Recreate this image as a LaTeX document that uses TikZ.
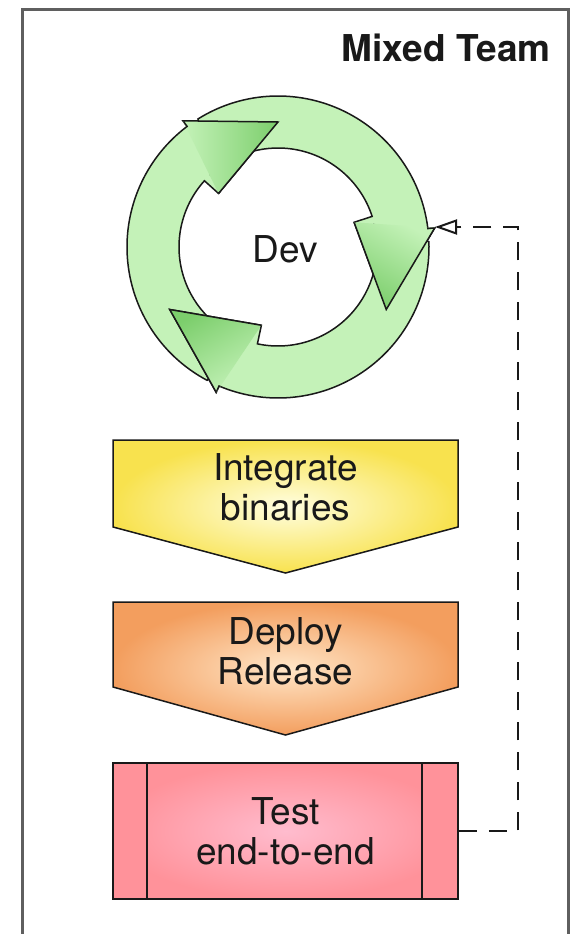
\documentclass[tikz,border=0pt]{standalone}
\usepackage{fontspec}
\setmainfont{TeX Gyre Heros}
\usetikzlibrary{arrows.meta}

\definecolor{ringgreen}{RGB}{196,242,184}
\definecolor{headgreen}{RGB}{124,206,108}
\definecolor{yellowedge}{RGB}{248,226,78}
\definecolor{yellowmid}{RGB}{255,254,224}
\definecolor{orangeedge}{RGB}{243,158,94}
\definecolor{orangemid}{RGB}{255,230,200}
\definecolor{pinkedge}{RGB}{255,146,154}
\definecolor{pinkmid}{RGB}{255,188,206}
\definecolor{framegray}{RGB}{95,95,95}
\definecolor{inkgray}{RGB}{25,25,25}

\tikzset{
  boxtext/.style={font=\fontsize{37}{40}\selectfont, align=center, text=inkgray},
  outline/.style={draw=inkgray, line width=1.5pt},
  ringarrow/.style={outline, fill=ringgreen},
  chevron/.style={outline},
  testbox/.style={boxtext, outline, minimum width=345pt, minimum height=136pt, inner sep=0pt,
    shade, inner color=pinkmid, outer color=pinkedge,
    path picture={
      \fill[pinkedge] (path picture bounding box.north west) rectangle ([xshift=34pt]path picture bounding box.south west);
      \fill[pinkedge] ([xshift=-36pt]path picture bounding box.north east) rectangle (path picture bounding box.south east);
      \draw[inkgray, line width=1.5pt] ([xshift=34pt]path picture bounding box.north west) -- ([xshift=34pt]path picture bounding box.south west);
      \draw[inkgray, line width=1.5pt] ([xshift=-36pt]path picture bounding box.north east) -- ([xshift=-36pt]path picture bounding box.south east);
    }},
  feedback/.style={draw=inkgray, line width=2.5pt, dash pattern=on 18pt off 12pt,
    -{Triangle[open, length=22pt, width=15pt, line width=2pt]}}
}

\newcommand{\cyclepath}[1]{({#1+152}:151) arc[start angle={#1+152}, end angle={#1+37}, radius=151]
  -- ({#1+37}:158) -- (#1:125) -- ({#1+48}:80) -- ({#1+48}:99)
  arc[start angle={#1+48}, end angle={#1+163}, radius=99] -- cycle}

\begin{document}
\begin{tikzpicture}[x=1pt,y=-1pt]
\useasboundingbox (0,0) rectangle (573,934);
\clip (0,0) rectangle (573,934);
\fill[white] (0,0) rectangle (573,934);
\draw[framegray, line width=3pt] (22,10) rectangle (568,960);
\node[boxtext, font=\fontsize{37}{40}\selectfont\bfseries, anchor=base east] (team) at (554,62) {Mixed Team};

\begin{scope}[shift={(278,247)}, yscale=-1]
\foreach \t in {90,-30,210}
  \filldraw[ringarrow] \cyclepath{\t};
\foreach \t in {90,-30,210} {
  \begin{scope}
  \clip (0,0) -- ({\t+48}:80) -- ({\t+37}:158) -- ({\t+37}:240) -- ({\t-20}:240) -- cycle;
  \shade[top color=ringgreen, bottom color=headgreen, shading angle=\t] ({\t+37}:158) -- (\t:125) -- ({\t+48}:80) -- cycle;
  \draw[outline] \cyclepath{\t};
  \end{scope}
}
\end{scope}
\node[boxtext, anchor=base] (dev) at (285.5,262) {Dev};

\shadedraw[chevron, inner color=yellowmid, outer color=yellowedge]
  (113,440) -- (458,440) -- (458,527) -- (285.5,573) -- (113,527) -- cycle;
\node[boxtext] (integrate) at (285.5,487) {Integrate\\binaries};

\shadedraw[chevron, inner color=orangemid, outer color=orangeedge]
  (113,602) -- (458,602) -- (458,687) -- (285.5,735) -- (113,687) -- cycle;
\node[boxtext] (deploy) at (285.5,651) {Deploy\\Release};

\node[testbox] (test) at (285.5,831) {Test\\end-to-end};

\coordinate (ringport) at (435,227);
\coordinate (bend) at (518,227);
\draw[feedback] (test.east) -| (bend) -- (ringport);
\end{tikzpicture}
\end{document}
